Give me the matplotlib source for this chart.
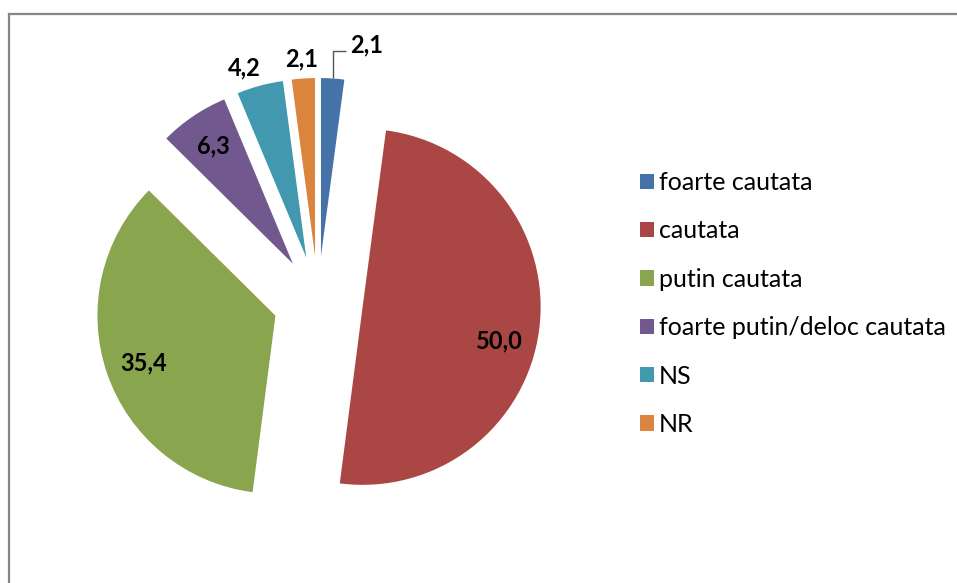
import numpy as np
import matplotlib
matplotlib.use("Agg")
import matplotlib.pyplot as plt
from matplotlib.lines import Line2D

categories = ["foarte cautata", "cautata", "putin cautata",
              "foarte putin/deloc cautata", "NS", "NR"]
values = [2.1, 50.0, 35.4, 6.3, 4.2, 2.1]
value_labels = ["2,1", "50,0", "35,4", "6,3", "4,2", "2,1"]
colors = ["#4572A7", "#AA4643", "#89A54E", "#71588F", "#4198AF", "#DB843D"]

W, H = 957, 583
fig = plt.figure(figsize=(W / 100, H / 100), dpi=100)
ax = fig.add_axes([0, 0, 1, 1])
ax.set_xlim(0, W)
ax.set_ylim(0, H)
ax.set_aspect("equal")
ax.axis("off")

R = 178
cx, cy = 318, H - 301
explode = [45] * len(values)
wedges, _ = ax.pie(values, colors=colors, startangle=90, counterclock=False,
                   radius=R, center=(cx, cy), explode=explode,
                   wedgeprops=dict(linewidth=0), frame=True)
ax.set_xlim(0, W)
ax.set_ylim(0, H)
ax.axis("off")

font = "Lato"
LFS = 17
# label placement: (distance factor, angle offset deg)
place = [None, (0.79, -6.5), (0.79, 0.8), (0.80, 0.0), (1.12, 3.0), (1.11, 0.0)]
for w, lab, pl in zip(wedges, value_labels, place):
    th = np.deg2rad((w.theta1 + w.theta2) / 2)
    wx, wy = w.center
    if pl is None:
        # leader line for the first (small) slice
        px = wx + w.r * np.cos(th)
        py = wy + w.r * np.sin(th)
        ax.plot([px, px, px + 13], [py, py + 27, py + 27], color="#555555",
                lw=1.0, solid_capstyle="butt")
        ax.text(px + 17, py + 34, lab, ha="left", va="center",
                fontsize=LFS, fontweight="bold", family=font, color="black")
        continue
    d, off = pl
    t = th + np.deg2rad(off)
    ax.text(wx + d * w.r * np.cos(t), wy + d * w.r * np.sin(t), lab,
            ha="center", va="center", fontsize=LFS, fontweight="bold",
            family=font, color="black")

# outer frame (only top and left visible)
fig.add_artist(Line2D([9 / W, 9 / W], [0, 1 - 14 / H], transform=fig.transFigure,
                      color="#868686", lw=1.6))
fig.add_artist(Line2D([9 / W, 1], [1 - 14 / H, 1 - 14 / H], transform=fig.transFigure,
                      color="#868686", lw=1.6))

leg = fig.legend(wedges, categories, loc="upper left",
                 bbox_to_anchor=(640 / W, 1 - 171 / H),
                 frameon=False, handlelength=0.56, handleheight=0.56,
                 handletextpad=0.2, labelspacing=1.015, borderpad=0, borderaxespad=0,
                 prop=dict(family=font, size=18))

fig.savefig("out.png", dpi=100)
